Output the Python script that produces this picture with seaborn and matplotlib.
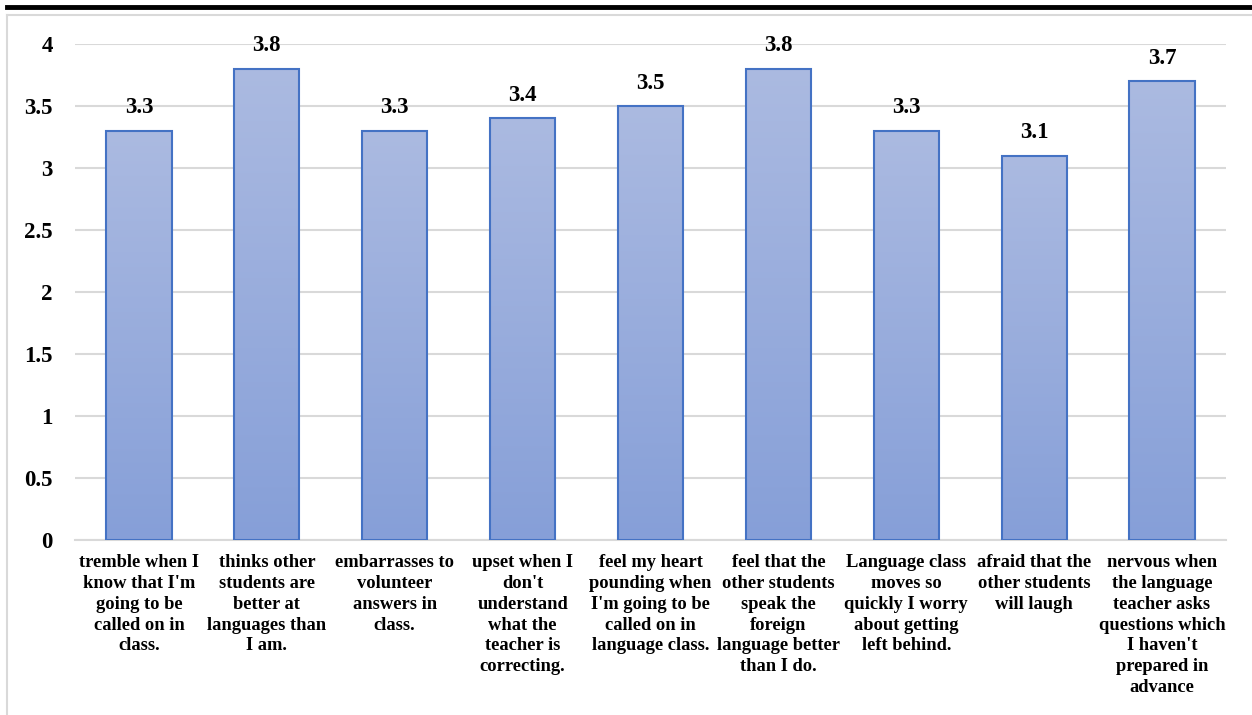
import matplotlib.pyplot as plt
import numpy as np
import pandas as pd
import seaborn as sns
from matplotlib.lines import Line2D

plt.rcParams['font.family'] = ['Liberation Serif', 'DejaVu Serif']
plt.rcParams['font.weight'] = 'bold'

items = [
    "tremble when I\nknow that I'm\ngoing to be\ncalled on in\nclass.",
    "thinks other\nstudents are\nbetter at\nlanguages than\nI am.",
    "embarrasses to\nvolunteer\nanswers in\nclass.",
    "upset when I\ndon't\nunderstand\nwhat the\nteacher is\ncorrecting.",
    "feel my heart\npounding when\nI'm going to be\ncalled on in\nlanguage class.",
    "feel that the\nother students\nspeak the\nforeign\nlanguage better\nthan I do.",
    "Language class\nmoves so\nquickly I worry\nabout getting\nleft behind.",
    "afraid that the\nother students\nwill laugh",
    "nervous when\nthe language\nteacher asks\nquestions which\nI haven't\nprepared in\nadvance",
]
means = [3.3, 3.8, 3.3, 3.4, 3.5, 3.8, 3.3, 3.1, 3.7]
yticks = [0, 0.5, 1, 1.5, 2, 2.5, 3, 3.5, 4]
ytick_labels = ["0", "0.5", "1", "1.5", "2", "2.5", "3", "3.5", "4"]

df = pd.DataFrame({"item": items, "mean": means})

fig = plt.figure(figsize=(12.52, 7.15), dpi=100)
ax = fig.add_axes([75 / 1252, 1 - 540 / 715, 1151 / 1252, 496 / 715])

bars = sns.barplot(data=df, x="item", y="mean", ax=ax, color="#9AAEDD",
                   width=0.51, edgecolor="#4472C4", linewidth=1.5, zorder=3)

# vertical gradient inside each bar
grad = np.linspace(0, 1, 256).reshape(-1, 1)
top = np.array([0xAB, 0xBA, 0xE1]) / 255
bot = np.array([0x86, 0x9F, 0xD8]) / 255
img = top[None, None, :] * (1 - grad[:, :, None]) + bot[None, None, :] * grad[:, :, None]
for p in bars.patches:
    x0, y0 = p.get_x(), p.get_y()
    w, h = p.get_width(), p.get_height()
    im = ax.imshow(img, extent=[x0, x0 + w, y0, y0 + h], aspect='auto',
                   origin='upper', zorder=3.5)
    im.set_clip_path(p)
    p.set_facecolor('none')
    p.set_zorder(4)

for i, v in enumerate(means):
    ax.text(i, v + 0.1, f"{v:g}", ha='center', va='bottom', fontsize=16.5,
            fontweight='bold')

ax.set_ylim(0, 4)
ax.set_xlim(-0.5, len(items) - 0.5)
ax.set_yticks(yticks)
ax.set_yticklabels(ytick_labels, fontsize=16.5, fontweight='bold')
ax.set_xticklabels(items, fontsize=13.3, fontweight='bold', linespacing=1.3,
                   va='top')
ax.tick_params(axis='both', length=0)
ax.tick_params(axis='y', pad=16)
ax.tick_params(axis='x', pad=10)
ax.set_xlabel("")
ax.set_ylabel("")
ax.yaxis.grid(True, color="#D9D9D9", linewidth=1.5, zorder=0)
ax.set_axisbelow(True)
for s in ['top', 'right', 'left']:
    ax.spines[s].set_visible(False)
ax.spines['bottom'].set_color("#D9D9D9")
ax.spines['bottom'].set_linewidth(1.5)

# frame lines around the chart
fig.add_artist(Line2D([7 / 1252, 1], [1 - 7 / 715, 1 - 7 / 715],
                      color='black', linewidth=3.5, transform=fig.transFigure))
fig.add_artist(Line2D([7 / 1252, 1], [1 - 14.5 / 715, 1 - 14.5 / 715],
                      color='#D9D9D9', linewidth=1.5, transform=fig.transFigure))
fig.add_artist(Line2D([7 / 1252, 7 / 1252], [0, 1 - 14.5 / 715],
                      color='#D9D9D9', linewidth=1.5, transform=fig.transFigure))

fig.savefig("out.png", dpi=100)
